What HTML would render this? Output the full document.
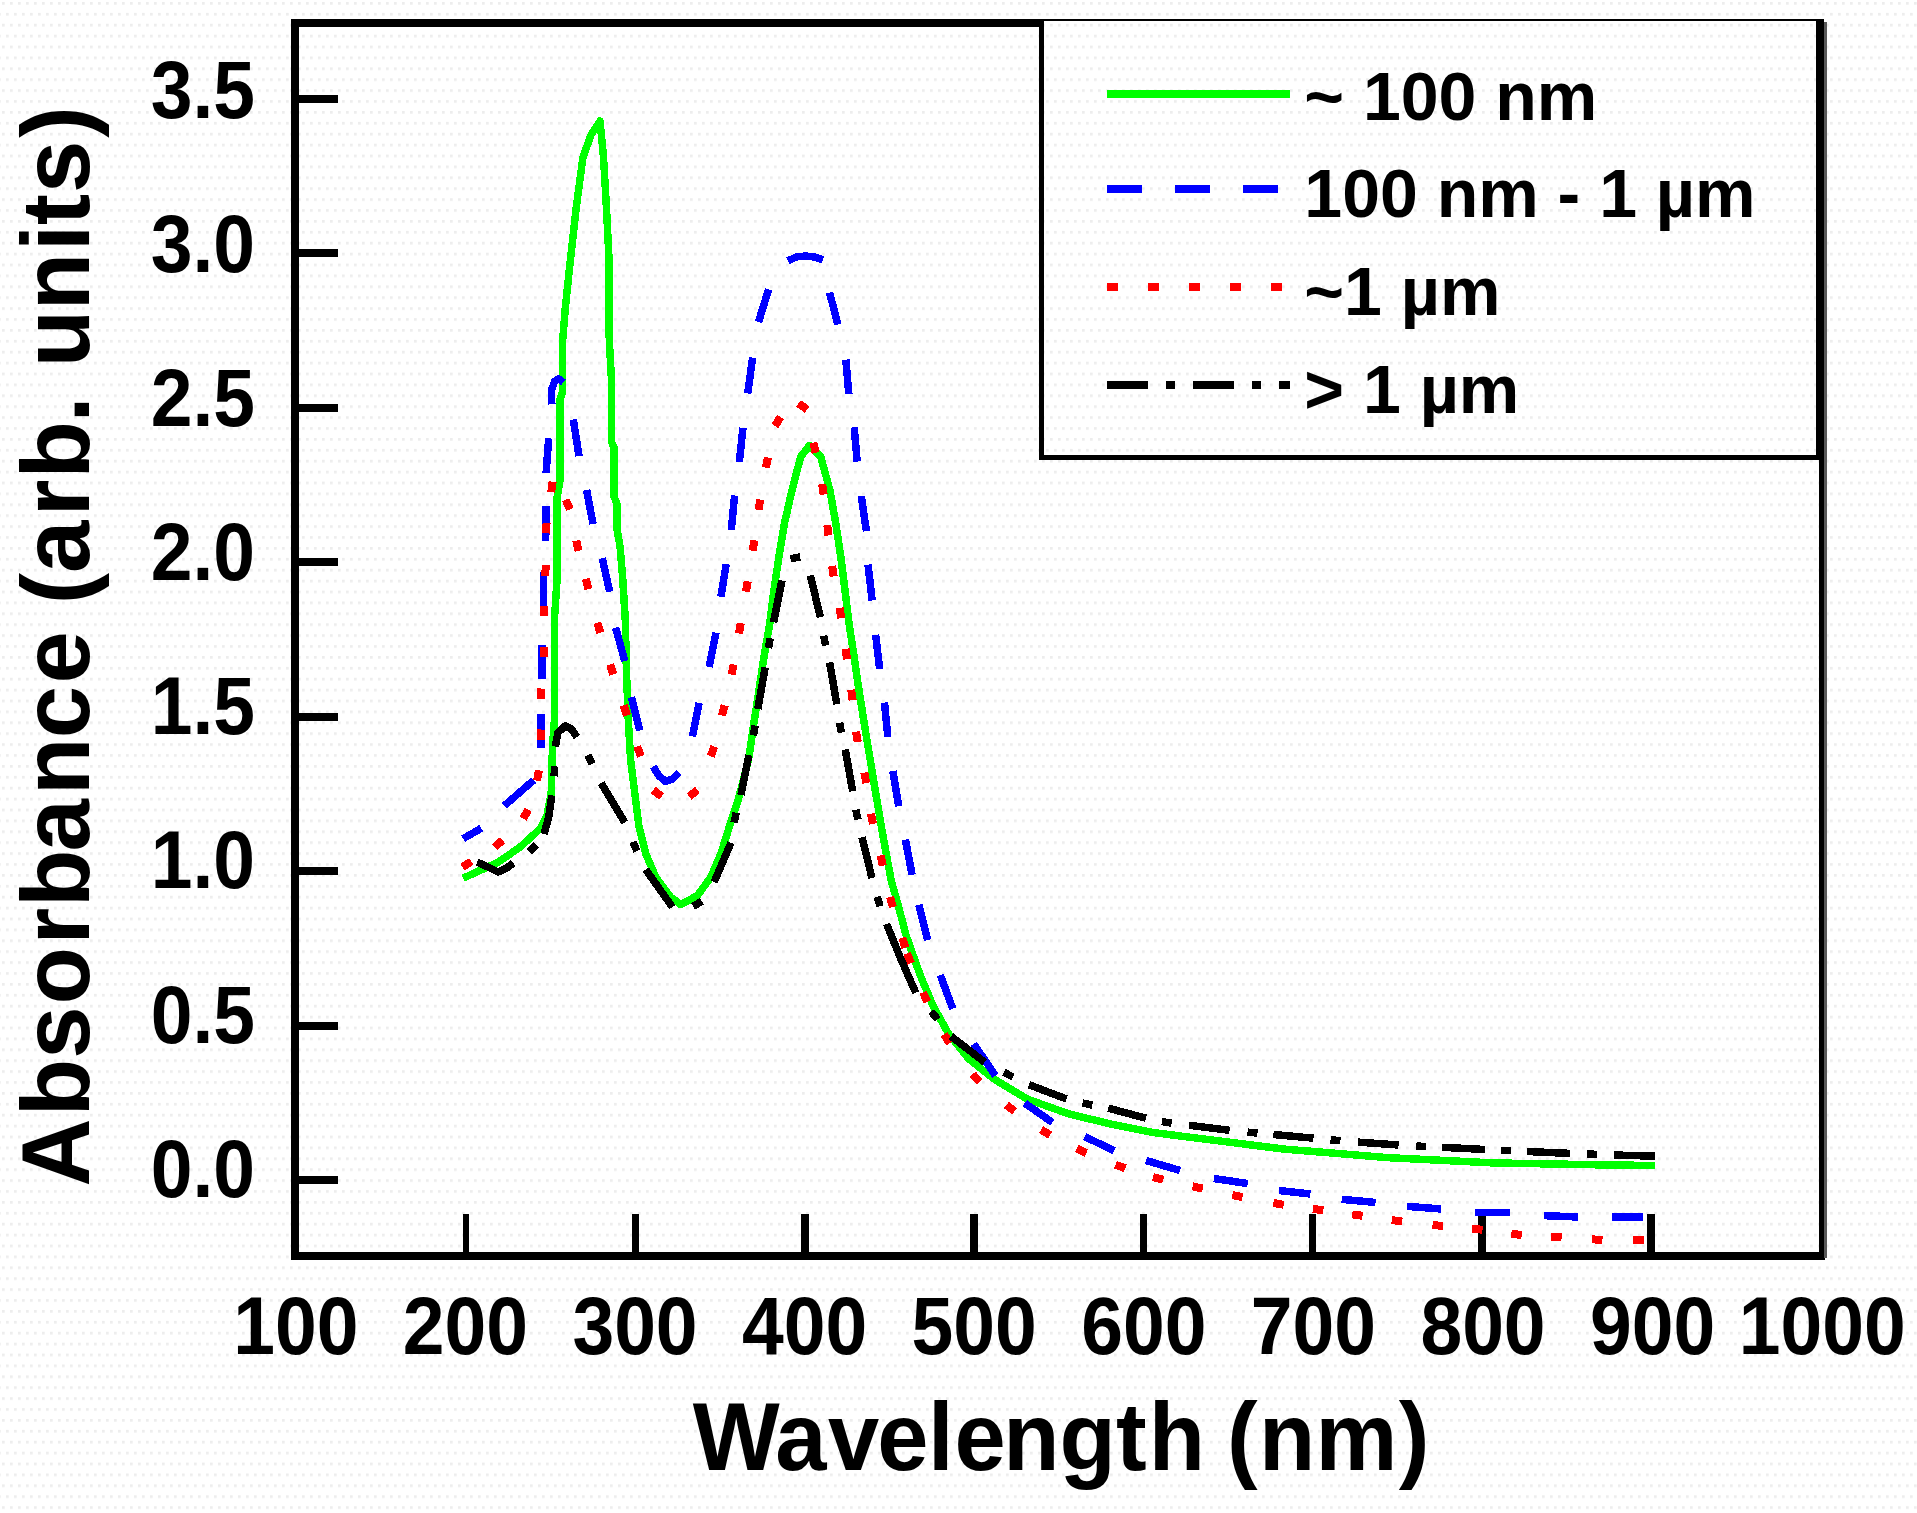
<!DOCTYPE html>
<html><head><meta charset="utf-8"><title>Absorbance</title>
<style>
html,body{margin:0;padding:0;background:#fff;}
body{width:1917px;height:1513px;overflow:hidden;}
svg{display:block;}
text{font-family:"Liberation Sans",Arial,Helvetica,sans-serif;font-weight:bold;fill:#000;}
.ln{fill:none;stroke-linejoin:round;}
</style></head><body>
<svg width="1917" height="1513" viewBox="0 0 1917 1513">
<defs><pattern id="dots" x="2" y="2" width="8" height="21.8" patternUnits="userSpaceOnUse"><rect x="0" y="0" width="2.7" height="2.7" fill="#ededed"/><rect x="4" y="10.9" width="2.7" height="2.7" fill="#ededed"/></pattern></defs>
<rect x="0" y="0" width="1917" height="1513" fill="#ffffff"/>
<rect x="0" y="0" width="1917" height="1513" fill="url(#dots)"/>

<g shape-rendering="crispEdges">
<rect x="291" y="19" width="8" height="1241" fill="#000"/>
<rect x="291" y="19" width="760" height="8" fill="#000"/>
<rect x="291" y="1252.3" width="1534" height="8" fill="#000"/>
<rect x="1819" y="440" width="5.2" height="820" fill="#000"/>
<rect x="1824.2" y="21.5" width="2.6" height="1236" fill="#595959"/>
<rect x="299" y="1176.2" width="39" height="8" fill="#000"/>
<rect x="299" y="1021.7" width="39" height="8" fill="#000"/>
<rect x="299" y="867.3" width="39" height="8" fill="#000"/>
<rect x="299" y="712.8" width="39" height="8" fill="#000"/>
<rect x="299" y="558.3" width="39" height="8" fill="#000"/>
<rect x="299" y="403.9" width="39" height="8" fill="#000"/>
<rect x="299" y="249.4" width="39" height="8" fill="#000"/>
<rect x="299" y="94.9" width="39" height="8" fill="#000"/>
<rect x="463.2" y="1214" width="6" height="40" fill="#000"/>
<rect x="631.7" y="1214" width="7.6" height="40" fill="#000"/>
<rect x="800.9" y="1214" width="7.6" height="40" fill="#000"/>
<rect x="970.2" y="1214" width="7.6" height="40" fill="#000"/>
<rect x="1139.5" y="1214" width="7.6" height="40" fill="#000"/>
<rect x="1308.8" y="1214" width="7.6" height="40" fill="#000"/>
<rect x="1478.0" y="1214" width="7.6" height="40" fill="#000"/>
<rect x="1647.3" y="1214" width="7.6" height="40" fill="#000"/>
</g>
<g shape-rendering="crispEdges">
<polyline class="ln" points="463.2,878.2 498.5,862.0 520.3,846.9 540.3,828.6 547.0,815.2 550.0,800.0 551.2,793.4 552.0,760.0 553.0,740.0 554.4,720.0 554.4,620.0 557.0,580.0 557.2,497.0 559.9,481.0 559.9,400.0 562.5,392.0 562.7,340.0 565.4,307.0 570.7,257.0 576.3,207.0 583.0,157.0 591.0,135.0 600.0,121.0 603.5,157.0 606.4,207.0 608.9,257.0 608.9,307.0 609.3,341.0 611.5,380.0 611.6,442.0 614.2,448.0 614.2,497.0 616.8,503.0 617.2,530.0 620.1,547.0 622.8,580.0 625.3,620.0 626.4,670.0 628.3,720.0 630.6,760.0 634.8,793.4 639.0,826.9 645.7,853.6 655.7,877.0 670.7,897.1 680.8,904.6 697.5,895.4 710.9,877.0 720.9,853.6 729.3,826.9 737.6,801.8 744.3,776.7 748.5,760.0 754.3,720.5 758.9,690.8 763.9,657.4 769.7,623.9 773.9,590.5 778.9,557.0 784.4,523.6 792.0,490.2 800.7,456.7 809.5,445.5 820.7,456.7 829.9,490.2 835.8,523.6 840.8,557.0 845.0,590.5 849.1,623.9 854.2,657.4 858.5,687.0 865.3,730.2 873.6,780.3 882.0,830.5 891.2,880.6 897.6,903.0 906.0,935.0 920.2,975.2 933.6,1007.0 948.6,1033.8 968.7,1058.8 993.8,1078.9 1027.2,1099.0 1069.0,1114.0 1110.8,1124.0 1152.6,1132.4 1180.0,1136.0 1284.3,1149.1 1388.7,1157.7 1493.0,1162.9 1597.3,1164.8 1654.7,1165.5" stroke="#00ff00" stroke-width="7.5"/>
<g class="ln" stroke="#0000ff" stroke-width="7.5">
<polyline points="463.1,838.7 481.3,828.2"/>
<polyline points="504.3,805.8 533.6,780.2"/>
<polyline points="540.8,747.5 540.8,713.8"/>
<polyline points="542.0,678.7 542.0,645.2"/>
<polyline points="543.7,606.0 543.5,572.0"/>
<polyline points="545.7,540.7 546.1,506.2"/>
<polyline points="546.1,472.8 548.7,438.3"/>
<polyline points="551.8,404.4 551.3,391.0 554.5,381.5 558.6,378.8 563.3,382.5"/>
<polyline points="573.3,419.5 579.0,456.1"/>
<polyline points="586.6,490.0 593.0,524.0"/>
<polyline points="602.2,558.2 609.7,591.7"/>
<polyline points="615.6,627.7 624.8,661.1"/>
<polyline points="631.4,697.1 639.8,730.5"/>
<polyline points="653.2,766.5 659.0,776.0 665.7,781.5 672.5,779.0 679.1,772.3"/>
<polyline points="692.5,736.4 699.2,702.9"/>
<polyline points="709.2,667.0 715.9,632.7"/>
<polyline points="720.9,596.8 726.2,564.1"/>
<polyline points="731.3,529.8 734.6,495.5"/>
<polyline points="739.3,462.1 743.0,427.8"/>
<polyline points="747.6,393.5 752.7,357.6"/>
<polyline points="758.5,322.0 768.6,289.4"/>
<polyline points="787.8,261.0 796.0,257.0 805.3,256.0 815.0,257.0 822.9,259.8"/>
<polyline points="829.6,292.7 837.9,324.5"/>
<polyline points="845.8,359.6 848.8,393.9"/>
<polyline points="854.2,427.3 857.2,461.6"/>
<polyline points="861.3,496.0 866.4,531.1"/>
<polyline points="868.0,564.6 872.2,600.5"/>
<polyline points="875.6,634.8 879.7,669.1"/>
<polyline points="884.5,702.6 887.8,736.8"/>
<polyline points="892.9,771.1 898.7,806.2"/>
<polyline points="905.4,839.7 912.1,874.8"/>
<polyline points="918.8,904.9 927.7,940.1"/>
<polyline points="940.3,975.2 952.8,1008.7"/>
<polyline points="973.7,1043.8 995.4,1075.6"/>
<polyline points="1024.7,1103.1 1052.3,1122.4"/>
<polyline points="1084.9,1136.6 1114.1,1150.8"/>
<polyline points="1146.0,1160.5 1180.0,1170.5"/>
<polyline points="1213.9,1178.6 1247.8,1183.5"/>
<polyline points="1279.0,1190.5 1310.4,1194.0"/>
<polyline points="1341.7,1199.3 1375.6,1202.5"/>
<polyline points="1406.9,1206.3 1440.8,1209.0"/>
<polyline points="1474.7,1212.3 1510.0,1212.7"/>
<polyline points="1543.8,1215.6 1577.8,1217.0"/>
<polyline points="1611.7,1217.2 1643.0,1217.2"/>
</g>
<line x1="462.6" y1="867.2" x2="471.4" y2="861.4" stroke="#ff0000" stroke-width="8.0"/>
<line x1="494.5" y1="847.1" x2="502.5" y2="840.3" stroke="#ff0000" stroke-width="8.0"/>
<line x1="523.1" y1="818.7" x2="528.3" y2="809.7" stroke="#ff0000" stroke-width="8.0"/>
<line x1="537.0" y1="780.7" x2="539.0" y2="770.3" stroke="#ff0000" stroke-width="8.0"/>
<line x1="540.6" y1="739.9" x2="541.0" y2="729.5" stroke="#ff0000" stroke-width="8.0"/>
<line x1="540.6" y1="698.9" x2="541.0" y2="688.5" stroke="#ff0000" stroke-width="8.0"/>
<line x1="543.5" y1="657.1" x2="543.9" y2="646.7" stroke="#ff0000" stroke-width="8.0"/>
<line x1="543.6" y1="616.2" x2="543.8" y2="605.8" stroke="#ff0000" stroke-width="8.0"/>
<line x1="545.3" y1="575.7" x2="545.7" y2="565.3" stroke="#ff0000" stroke-width="8.0"/>
<line x1="545.8" y1="533.3" x2="546.6" y2="522.9" stroke="#ff0000" stroke-width="8.0"/>
<line x1="551.2" y1="492.1" x2="552.6" y2="481.7" stroke="#ff0000" stroke-width="8.0"/>
<line x1="565.7" y1="499.8" x2="569.9" y2="509.4" stroke="#ff0000" stroke-width="8.0"/>
<line x1="576.2" y1="540.6" x2="578.6" y2="550.8" stroke="#ff0000" stroke-width="8.0"/>
<line x1="585.8" y1="578.9" x2="588.4" y2="589.1" stroke="#ff0000" stroke-width="8.0"/>
<line x1="597.3" y1="622.7" x2="600.3" y2="632.7" stroke="#ff0000" stroke-width="8.0"/>
<line x1="610.1" y1="664.5" x2="613.3" y2="674.5" stroke="#ff0000" stroke-width="8.0"/>
<line x1="623.6" y1="705.4" x2="627.0" y2="715.4" stroke="#ff0000" stroke-width="8.0"/>
<line x1="637.1" y1="746.5" x2="640.9" y2="756.3" stroke="#ff0000" stroke-width="8.0"/>
<line x1="653.2" y1="790.0" x2="661.6" y2="796.4" stroke="#ff0000" stroke-width="8.0"/>
<line x1="689.1" y1="796.4" x2="697.5" y2="790.0" stroke="#ff0000" stroke-width="8.0"/>
<line x1="710.7" y1="756.3" x2="714.3" y2="746.5" stroke="#ff0000" stroke-width="8.0"/>
<line x1="722.1" y1="715.5" x2="724.7" y2="705.3" stroke="#ff0000" stroke-width="8.0"/>
<line x1="731.6" y1="674.6" x2="733.6" y2="664.4" stroke="#ff0000" stroke-width="8.0"/>
<line x1="739.0" y1="633.5" x2="740.8" y2="623.1" stroke="#ff0000" stroke-width="8.0"/>
<line x1="745.9" y1="591.7" x2="747.7" y2="581.3" stroke="#ff0000" stroke-width="8.0"/>
<line x1="752.7" y1="550.7" x2="754.3" y2="540.3" stroke="#ff0000" stroke-width="8.0"/>
<line x1="758.6" y1="509.9" x2="760.2" y2="499.5" stroke="#ff0000" stroke-width="8.0"/>
<line x1="765.8" y1="467.6" x2="768.0" y2="457.4" stroke="#ff0000" stroke-width="8.0"/>
<line x1="774.9" y1="425.9" x2="780.5" y2="417.1" stroke="#ff0000" stroke-width="8.0"/>
<line x1="798.5" y1="403.3" x2="807.1" y2="409.5" stroke="#ff0000" stroke-width="8.0"/>
<line x1="813.3" y1="442.7" x2="815.7" y2="452.9" stroke="#ff0000" stroke-width="8.0"/>
<line x1="822.1" y1="484.1" x2="823.7" y2="494.5" stroke="#ff0000" stroke-width="8.0"/>
<line x1="827.3" y1="525.1" x2="828.5" y2="535.5" stroke="#ff0000" stroke-width="8.0"/>
<line x1="832.1" y1="566.0" x2="833.7" y2="576.4" stroke="#ff0000" stroke-width="8.0"/>
<line x1="839.6" y1="607.8" x2="841.2" y2="618.2" stroke="#ff0000" stroke-width="8.0"/>
<line x1="845.6" y1="648.8" x2="847.0" y2="659.2" stroke="#ff0000" stroke-width="8.0"/>
<line x1="851.2" y1="689.8" x2="852.6" y2="700.2" stroke="#ff0000" stroke-width="8.0"/>
<line x1="856.1" y1="731.6" x2="857.7" y2="742.0" stroke="#ff0000" stroke-width="8.0"/>
<line x1="864.3" y1="772.6" x2="866.3" y2="783.0" stroke="#ff0000" stroke-width="8.0"/>
<line x1="871.0" y1="813.7" x2="873.0" y2="823.9" stroke="#ff0000" stroke-width="8.0"/>
<line x1="880.5" y1="855.5" x2="882.9" y2="865.7" stroke="#ff0000" stroke-width="8.0"/>
<line x1="890.1" y1="896.9" x2="892.9" y2="907.1" stroke="#ff0000" stroke-width="8.0"/>
<line x1="902.2" y1="937.7" x2="905.4" y2="947.7" stroke="#ff0000" stroke-width="8.0"/>
<line x1="907.1" y1="953.4" x2="910.9" y2="963.2" stroke="#ff0000" stroke-width="8.0"/>
<line x1="923.0" y1="992.3" x2="927.4" y2="1001.7" stroke="#ff0000" stroke-width="8.0"/>
<line x1="944.1" y1="1034.4" x2="949.7" y2="1043.2" stroke="#ff0000" stroke-width="8.0"/>
<line x1="972.7" y1="1074.2" x2="979.7" y2="1082.0" stroke="#ff0000" stroke-width="8.0"/>
<line x1="1006.4" y1="1105.0" x2="1014.6" y2="1111.4" stroke="#ff0000" stroke-width="8.0"/>
<line x1="1041.1" y1="1129.7" x2="1050.1" y2="1135.1" stroke="#ff0000" stroke-width="8.0"/>
<line x1="1076.7" y1="1148.6" x2="1086.3" y2="1153.0" stroke="#ff0000" stroke-width="8.0"/>
<line x1="1115.5" y1="1164.7" x2="1125.3" y2="1168.3" stroke="#ff0000" stroke-width="8.0"/>
<line x1="1153.0" y1="1177.0" x2="1163.2" y2="1179.8" stroke="#ff0000" stroke-width="8.0"/>
<line x1="1192.6" y1="1186.4" x2="1202.8" y2="1188.6" stroke="#ff0000" stroke-width="8.0"/>
<line x1="1232.3" y1="1195.1" x2="1242.5" y2="1197.1" stroke="#ff0000" stroke-width="8.0"/>
<line x1="1273.4" y1="1203.0" x2="1283.8" y2="1204.8" stroke="#ff0000" stroke-width="8.0"/>
<line x1="1313.0" y1="1208.9" x2="1323.4" y2="1210.3" stroke="#ff0000" stroke-width="8.0"/>
<line x1="1352.2" y1="1214.4" x2="1362.6" y2="1215.8" stroke="#ff0000" stroke-width="8.0"/>
<line x1="1391.8" y1="1220.1" x2="1402.2" y2="1221.5" stroke="#ff0000" stroke-width="8.0"/>
<line x1="1432.5" y1="1225.0" x2="1442.9" y2="1226.0" stroke="#ff0000" stroke-width="8.0"/>
<line x1="1472.1" y1="1228.6" x2="1482.5" y2="1229.8" stroke="#ff0000" stroke-width="8.0"/>
<line x1="1511.3" y1="1233.9" x2="1521.7" y2="1234.9" stroke="#ff0000" stroke-width="8.0"/>
<line x1="1551.2" y1="1236.7" x2="1561.6" y2="1237.3" stroke="#ff0000" stroke-width="8.0"/>
<line x1="1592.1" y1="1239.4" x2="1602.5" y2="1239.8" stroke="#ff0000" stroke-width="8.0"/>
<line x1="1633.2" y1="1239.6" x2="1643.8" y2="1239.6" stroke="#ff0000" stroke-width="8.0"/>
<polyline class="ln" points="477.2,862.2 489.0,867.5 498.0,872.0 506.0,868.5 513.3,863.0" stroke="#000" stroke-width="7.5"/>
<line x1="529.2" y1="851.5" x2="536.4" y2="844.7" stroke="#000" stroke-width="7.5"/>
<polyline class="ln" points="544.0,834.0 548.7,817.3 551.8,795.4" stroke="#000" stroke-width="7.5"/>
<line x1="554.0" y1="776.3" x2="554.8" y2="766.3" stroke="#000" stroke-width="7.5"/>
<polyline class="ln" points="555.4,746.5 558.0,732.5 565.4,725.8 572.0,729.5 577.0,737.0" stroke="#000" stroke-width="7.5"/>
<line x1="587.7" y1="755.1" x2="592.3" y2="763.9" stroke="#000" stroke-width="7.5"/>
<polyline class="ln" points="601.2,783.1 624.8,822.5" stroke="#000" stroke-width="7.5"/>
<line x1="632.9" y1="841.9" x2="636.9" y2="851.1" stroke="#000" stroke-width="7.5"/>
<polyline class="ln" points="645.7,869.5 672.4,907.1" stroke="#000" stroke-width="7.5"/>
<line x1="693.2" y1="906.4" x2="701.8" y2="901.2" stroke="#000" stroke-width="7.5"/>
<polyline class="ln" points="714.2,882.0 730.9,842.8" stroke="#000" stroke-width="7.5"/>
<line x1="734.1" y1="822.6" x2="736.1" y2="812.8" stroke="#000" stroke-width="7.5"/>
<polyline class="ln" points="741.0,795.0 748.9,755.0" stroke="#000" stroke-width="7.5"/>
<line x1="753.4" y1="735.4" x2="755.2" y2="725.6" stroke="#000" stroke-width="7.5"/>
<polyline class="ln" points="757.8,709.0 765.2,667.4" stroke="#000" stroke-width="7.5"/>
<line x1="768.5" y1="648.0" x2="770.3" y2="638.2" stroke="#000" stroke-width="7.5"/>
<polyline class="ln" points="773.6,622.2 781.9,580.4" stroke="#000" stroke-width="7.5"/>
<line x1="790.4" y1="558.8" x2="800.2" y2="557.0" stroke="#000" stroke-width="7.5"/>
<polyline class="ln" points="810.3,575.4 820.4,617.2" stroke="#000" stroke-width="7.5"/>
<line x1="823.6" y1="635.7" x2="825.6" y2="645.5" stroke="#000" stroke-width="7.5"/>
<polyline class="ln" points="829.6,662.4 836.8,704.2" stroke="#000" stroke-width="7.5"/>
<line x1="839.6" y1="722.8" x2="841.4" y2="732.6" stroke="#000" stroke-width="7.5"/>
<polyline class="ln" points="845.2,749.4 852.7,791.2" stroke="#000" stroke-width="7.5"/>
<line x1="855.9" y1="809.7" x2="857.9" y2="819.5" stroke="#000" stroke-width="7.5"/>
<polyline class="ln" points="861.9,837.2 872.0,878.1" stroke="#000" stroke-width="7.5"/>
<line x1="877.1" y1="896.7" x2="880.1" y2="906.3" stroke="#000" stroke-width="7.5"/>
<polyline class="ln" points="886.6,923.9 900.0,957.0 915.8,992.8" stroke="#000" stroke-width="7.5"/>
<line x1="931.2" y1="1011.5" x2="937.6" y2="1019.3" stroke="#000" stroke-width="7.5"/>
<polyline class="ln" points="951.1,1036.3 984.6,1062.2" stroke="#000" stroke-width="7.5"/>
<line x1="1004.0" y1="1072.4" x2="1013.0" y2="1077.0" stroke="#000" stroke-width="7.5"/>
<polyline class="ln" points="1028.9,1084.7 1066.5,1099.0" stroke="#000" stroke-width="7.5"/>
<line x1="1082.5" y1="1102.9" x2="1092.3" y2="1105.1" stroke="#000" stroke-width="7.5"/>
<polyline class="ln" points="1108.3,1108.2 1145.9,1118.2" stroke="#000" stroke-width="7.5"/>
<line x1="1161.9" y1="1121.6" x2="1171.7" y2="1123.2" stroke="#000" stroke-width="7.5"/>
<polyline class="ln" points="1189.1,1125.3 1229.6,1130.3" stroke="#000" stroke-width="7.5"/>
<line x1="1247.5" y1="1132.1" x2="1257.5" y2="1133.1" stroke="#000" stroke-width="7.5"/>
<polyline class="ln" points="1273.4,1134.5 1313.5,1138.2" stroke="#000" stroke-width="7.5"/>
<line x1="1330.5" y1="1139.8" x2="1340.5" y2="1140.6" stroke="#000" stroke-width="7.5"/>
<polyline class="ln" points="1358.1,1142.1 1398.6,1145.0" stroke="#000" stroke-width="7.5"/>
<line x1="1416.3" y1="1146.0" x2="1426.3" y2="1146.6" stroke="#000" stroke-width="7.5"/>
<polyline class="ln" points="1442.1,1147.3 1485.2,1149.5" stroke="#000" stroke-width="7.5"/>
<line x1="1501.0" y1="1150.3" x2="1511.0" y2="1150.7" stroke="#000" stroke-width="7.5"/>
<polyline class="ln" points="1526.9,1151.5 1569.9,1153.4" stroke="#000" stroke-width="7.5"/>
<line x1="1587.1" y1="1154.0" x2="1597.1" y2="1154.4" stroke="#000" stroke-width="7.5"/>
<polyline class="ln" points="1614.3,1155.0 1654.7,1156.2" stroke="#000" stroke-width="7.5"/>
</g>
<g shape-rendering="crispEdges">
<rect x="1040" y="19" width="780" height="438" fill="#fff"/>
<rect x="1040" y="19" width="780" height="438" fill="url(#dots)"/>
<rect x="1038.7" y="18.5" width="5" height="441.2" fill="#000"/>
<rect x="1038.7" y="18.5" width="785.5" height="2.6" fill="#000"/>
<rect x="1038.7" y="454.7" width="785.5" height="5" fill="#000"/>
<rect x="1816" y="18.5" width="8.2" height="441.2" fill="#000"/>
<line x1="1107" y1="93.5" x2="1289.5" y2="93.5" stroke="#00ff00" stroke-width="8"/>
<line x1="1107" y1="188.8" x2="1289.5" y2="188.8" stroke="#0000ff" stroke-width="8" stroke-dasharray="35 33"/>
<line x1="1107" y1="287" x2="1289.5" y2="287" stroke="#ff0000" stroke-width="8" stroke-dasharray="10.5 30.5"/>
<line x1="1107" y1="384.8" x2="1289.5" y2="384.8" stroke="#000" stroke-width="8" stroke-dasharray="40.5 18.5 9 18"/>
</g>
<text id="l1" transform="translate(1304.3,120) scale(0.986,1)" font-size="69">~ 100 nm</text>
<text id="l2" transform="translate(1304.3,217) scale(0.986,1)" font-size="69">100 nm - 1 µm</text>
<text id="l3" transform="translate(1304.3,315.3) scale(0.986,1)" font-size="69">~1 µm</text>
<text id="l4" transform="translate(1304.3,413.2) scale(0.986,1)" font-size="69">&gt; 1 µm</text>
<text id="y0" transform="translate(255,1196.6) scale(0.915,1)" font-size="82" text-anchor="end">0.0</text>
<text id="y1" transform="translate(255,1042.5) scale(0.915,1)" font-size="82" text-anchor="end">0.5</text>
<text id="y2" transform="translate(255,888.3) scale(0.915,1)" font-size="82" text-anchor="end">1.0</text>
<text id="y3" transform="translate(255,734.2) scale(0.915,1)" font-size="82" text-anchor="end">1.5</text>
<text id="y4" transform="translate(255,580.1) scale(0.915,1)" font-size="82" text-anchor="end">2.0</text>
<text id="y5" transform="translate(255,425.9) scale(0.915,1)" font-size="82" text-anchor="end">2.5</text>
<text id="y6" transform="translate(255,271.8) scale(0.915,1)" font-size="82" text-anchor="end">3.0</text>
<text id="y7" transform="translate(255,117.7) scale(0.915,1)" font-size="82" text-anchor="end">3.5</text>
<text id="x0" transform="translate(295.8,1354.3) scale(0.915,1)" font-size="82" text-anchor="middle">100</text>
<text id="x1" transform="translate(465.4,1354.3) scale(0.915,1)" font-size="82" text-anchor="middle">200</text>
<text id="x2" transform="translate(635.0,1354.3) scale(0.915,1)" font-size="82" text-anchor="middle">300</text>
<text id="x3" transform="translate(804.6,1354.3) scale(0.915,1)" font-size="82" text-anchor="middle">400</text>
<text id="x4" transform="translate(974.2,1354.3) scale(0.915,1)" font-size="82" text-anchor="middle">500</text>
<text id="x5" transform="translate(1143.8,1354.3) scale(0.915,1)" font-size="82" text-anchor="middle">600</text>
<text id="x6" transform="translate(1313.4,1354.3) scale(0.915,1)" font-size="82" text-anchor="middle">700</text>
<text id="x7" transform="translate(1483.0,1354.3) scale(0.915,1)" font-size="82" text-anchor="middle">800</text>
<text id="x8" transform="translate(1652.6,1354.3) scale(0.915,1)" font-size="82" text-anchor="middle">900</text>
<text id="x9" transform="translate(1822.2,1354.3) scale(0.915,1)" font-size="82" text-anchor="middle">1000</text>
<text id="xt" transform="translate(0,1469.5) scale(0.95,1)" font-size="97" x="729.2 816.0 871.6 923.5 976.8 1004.8 1056.0 1115.2 1174.8 1209.3 1268.5 1291.6 1325.3 1384.8 1472.5">Wavelength (nm)</text>
<text id="yt" transform="translate(89.3,1186.4) rotate(-90) scale(0.97,1)" font-size="97" x="-0.2 72.4 131.7 187.5 249.4 288.0 345.3 403.4 461.9 518.4 572.3 600.2 632.4 690.8 729.9 787.6 814.6 844.4 903.2 964.3 990.9 1024.1 1081.0">Absorbance (arb. units)</text>
</svg></body></html>
